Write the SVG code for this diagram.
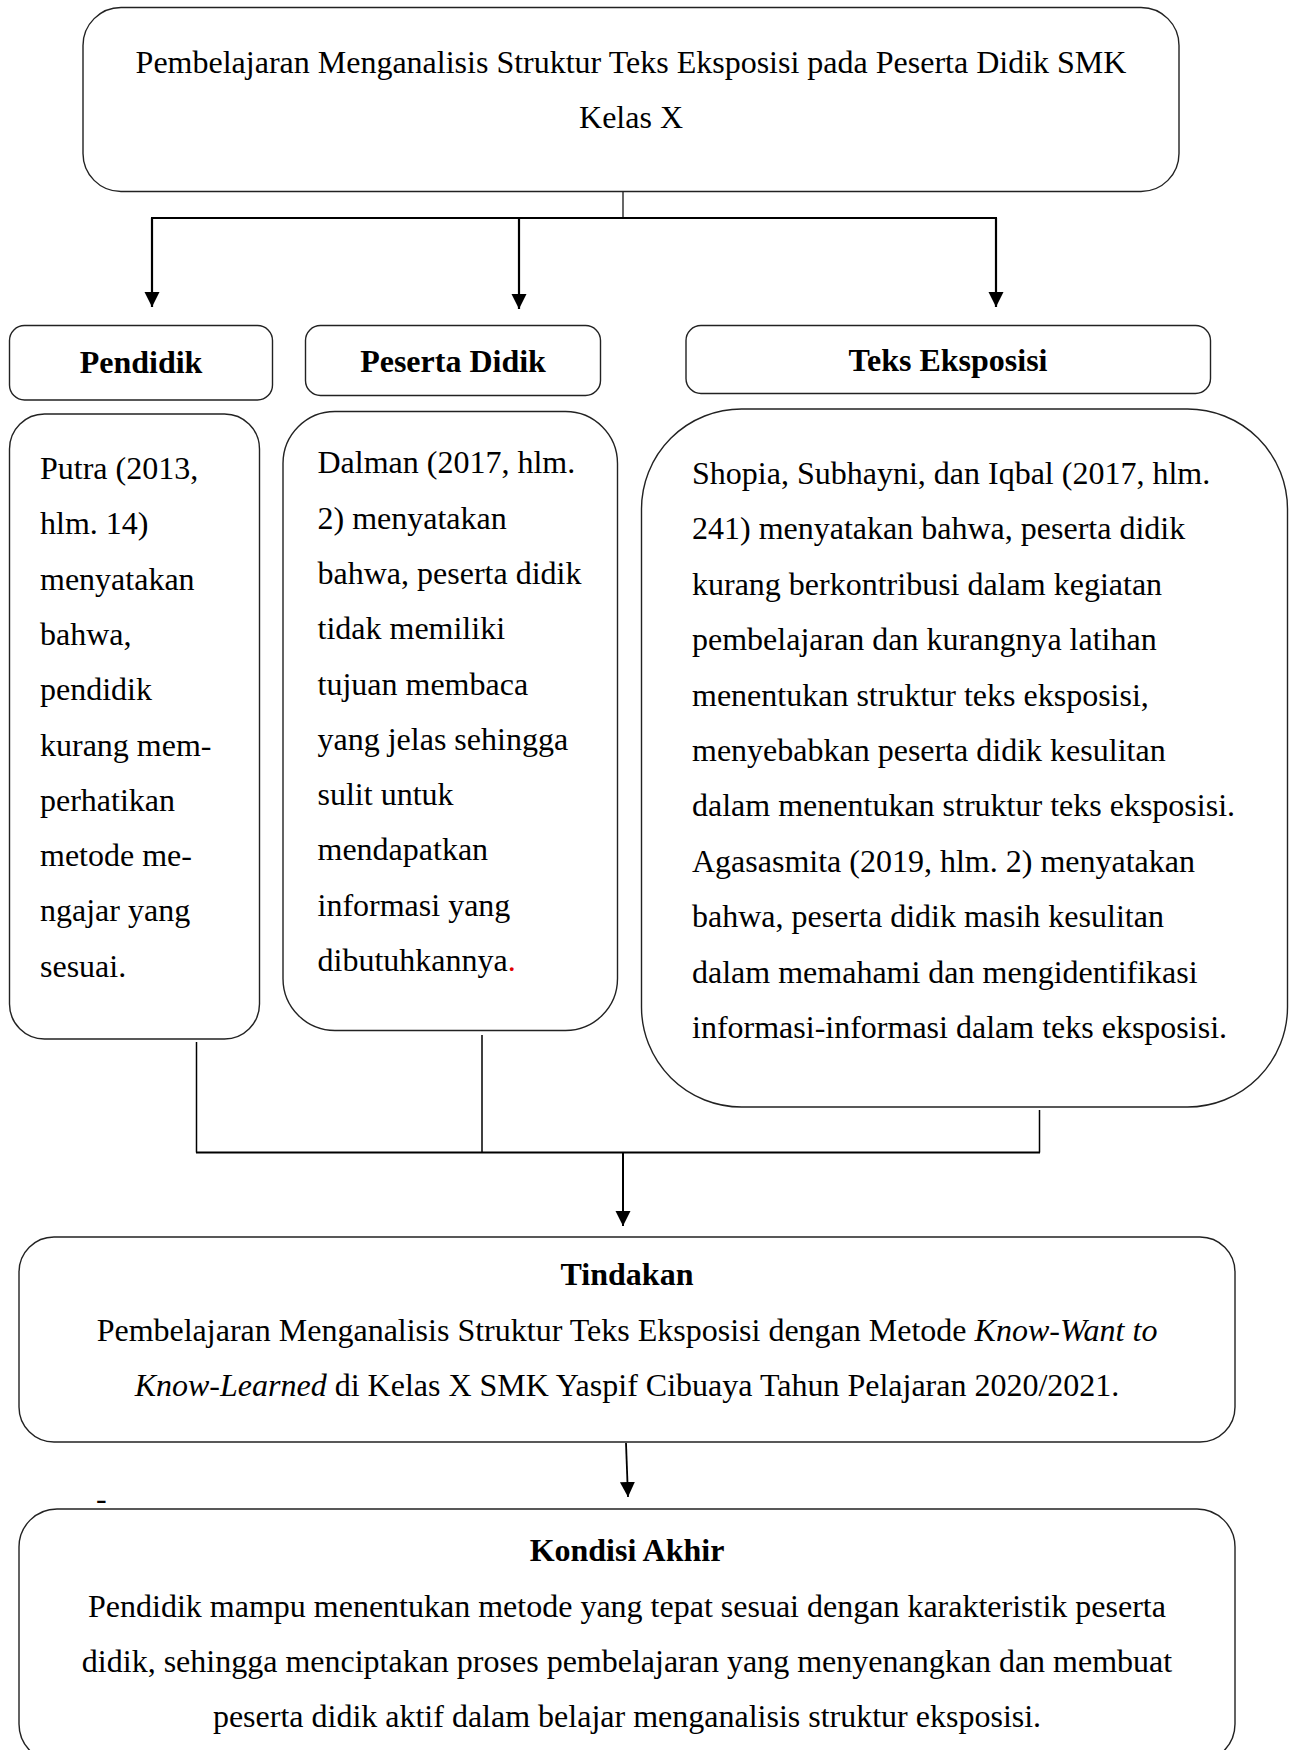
<svg xmlns="http://www.w3.org/2000/svg" width="1291" height="1750" viewBox="0 0 1291 1750">
<style>
.box{fill:#fff;stroke:#222;stroke-width:1.4}
.t{font-family:"Liberation Serif","Times New Roman",serif;font-size:32px;fill:#000}
.c{text-anchor:middle}
.b{font-weight:bold}
.i{font-style:italic}
.ln{stroke:#000;fill:none}
</style>
<defs>
<marker id="ah" markerUnits="userSpaceOnUse" markerWidth="16" markerHeight="16" refX="15" refY="7.5" orient="auto">
<path d="M0,0 L15,7.5 L0,15 z" fill="#000"/>
</marker>
</defs>
<rect width="1291" height="1750" fill="#fff"/>

<g id="connectors">
<line class="ln" x1="623" y1="192" x2="623" y2="218" stroke-width="1.2"/>
<line class="ln" x1="151" y1="218" x2="997" y2="218" stroke-width="2.2"/>
<line class="ln" x1="152" y1="218" x2="152" y2="307" stroke-width="2.2" marker-end="url(#ah)"/>
<line class="ln" x1="519" y1="218" x2="519" y2="309" stroke-width="2.2" marker-end="url(#ah)"/>
<line class="ln" x1="996" y1="218" x2="996" y2="307" stroke-width="2.2" marker-end="url(#ah)"/>
<line class="ln" x1="196.5" y1="1042" x2="196.5" y2="1152.5" stroke-width="1.5"/>
<line class="ln" x1="482" y1="1035" x2="482" y2="1152.5" stroke-width="1.5"/>
<line class="ln" x1="1039.5" y1="1110" x2="1039.5" y2="1152.5" stroke-width="1.5"/>
<line class="ln" x1="196" y1="1152.5" x2="1040" y2="1152.5" stroke-width="2"/>
<line class="ln" x1="623" y1="1152.5" x2="623" y2="1226" stroke-width="2" marker-end="url(#ah)"/>
<line class="ln" x1="626" y1="1443" x2="628" y2="1497" stroke-width="1.8" marker-end="url(#ah)"/>
</g>

<g id="node-top">
<rect class="box" x="83" y="7.5" width="1096" height="184" rx="38"/>
<text class="t c" x="631" y="73">Pembelajaran Menganalisis Struktur Teks Eksposisi pada Peserta Didik SMK</text>
<text class="t c" x="631" y="128">Kelas X</text>
</g>

<g id="node-pendidik">
<rect class="box" x="9.5" y="325.5" width="263" height="74.5" rx="15"/>
<text class="t c b" x="141" y="372.5">Pendidik</text>
</g>

<g id="node-peserta">
<rect class="box" x="305.5" y="325.5" width="295" height="70" rx="15"/>
<text class="t c b" x="453" y="371.5">Peserta Didik</text>
</g>

<g id="node-teks">
<rect class="box" x="686" y="325.5" width="524.5" height="68" rx="15"/>
<text class="t c b" x="948" y="370.5">Teks Eksposisi</text>
</g>

<g id="node-putra">
<rect class="box" x="9.5" y="414" width="250" height="625" rx="35"/>
<text class="t" x="40" y="479">Putra (2013,</text>
<text class="t" x="40" y="534.3">hlm. 14)</text>
<text class="t" x="40" y="589.6">menyatakan</text>
<text class="t" x="40" y="644.9">bahwa,</text>
<text class="t" x="40" y="700.2">pendidik</text>
<text class="t" x="40" y="755.5">kurang mem-</text>
<text class="t" x="40" y="810.8">perhatikan</text>
<text class="t" x="40" y="866.1">metode me-</text>
<text class="t" x="40" y="921.4">ngajar yang</text>
<text class="t" x="40" y="976.7">sesuai.</text>
</g>

<g id="node-dalman">
<rect class="box" x="283" y="411.5" width="334.5" height="619" rx="52"/>
<text class="t" x="317.5" y="473.3">Dalman (2017, hlm.</text>
<text class="t" x="317.5" y="528.6">2) menyatakan</text>
<text class="t" x="317.5" y="583.9">bahwa, peserta didik</text>
<text class="t" x="317.5" y="639.2">tidak memiliki</text>
<text class="t" x="317.5" y="694.5">tujuan membaca</text>
<text class="t" x="317.5" y="749.8">yang jelas sehingga</text>
<text class="t" x="317.5" y="805.1">sulit untuk</text>
<text class="t" x="317.5" y="860.4">mendapatkan</text>
<text class="t" x="317.5" y="915.7">informasi yang</text>
<text class="t" x="317.5" y="971">dibutuhkannya<tspan fill="#e00000">.</tspan></text>
</g>

<g id="node-shopia">
<rect class="box" x="641.5" y="409" width="646" height="698" rx="100"/>
<text class="t" x="692" y="484">Shopia, Subhayni, dan Iqbal (2017, hlm.</text>
<text class="t" x="692" y="539.4">241) menyatakan bahwa, peserta didik</text>
<text class="t" x="692" y="594.8">kurang berkontribusi dalam kegiatan</text>
<text class="t" x="692" y="650.2">pembelajaran dan kurangnya latihan</text>
<text class="t" x="692" y="705.6">menentukan struktur teks eksposisi,</text>
<text class="t" x="692" y="761">menyebabkan peserta didik kesulitan</text>
<text class="t" x="692" y="816.4">dalam menentukan struktur teks eksposisi.</text>
<text class="t" x="692" y="871.8">Agasasmita (2019, hlm. 2) menyatakan</text>
<text class="t" x="692" y="927.2">bahwa, peserta didik masih kesulitan</text>
<text class="t" x="692" y="982.6">dalam memahami dan mengidentifikasi</text>
<text class="t" x="692" y="1038">informasi-informasi dalam teks eksposisi.</text>
</g>

<g id="node-tindakan">
<rect class="box" x="19" y="1237" width="1216" height="205" rx="35"/>
<text class="t c b" x="627" y="1285">Tindakan</text>
<text class="t c" x="627" y="1341">Pembelajaran Menganalisis Struktur Teks Eksposisi dengan Metode <tspan class="i">Know-Want to</tspan></text>
<text class="t c" x="627" y="1396"><tspan class="i">Know-Learned</tspan> di Kelas X SMK Yaspif Cibuaya Tahun Pelajaran 2020/2021.</text>
</g>

<text class="t" x="96" y="1509">-</text>

<g id="node-kondisi">
<rect class="box" x="19" y="1509" width="1216" height="253" rx="38"/>
<text class="t c b" x="627" y="1561">Kondisi Akhir</text>
<text class="t c" x="627" y="1617">Pendidik mampu menentukan metode yang tepat sesuai dengan karakteristik peserta</text>
<text class="t c" x="627" y="1672">didik, sehingga menciptakan proses pembelajaran yang menyenangkan dan membuat</text>
<text class="t c" x="627" y="1727">peserta didik aktif dalam belajar menganalisis struktur eksposisi.</text>
</g>
</svg>
